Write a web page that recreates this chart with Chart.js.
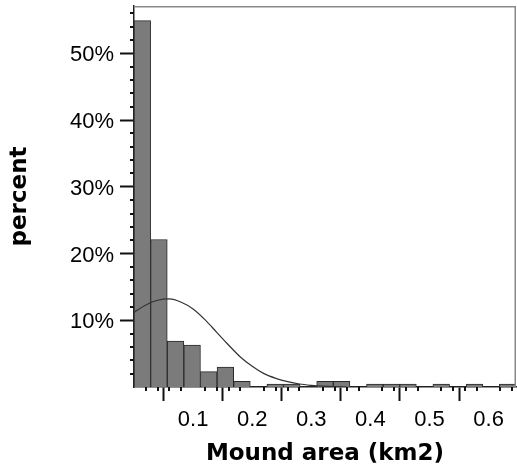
<!DOCTYPE html>
<html>
<head>
<meta charset="utf-8">
<title>Mound area histogram</title>
<script src="https://cdn.jsdelivr.net/npm/chart.js@4"></script>
<style>
  html, body { margin: 0; padding: 0; background: #fff; }
  #wrap { width: 517px; height: 470px; }
</style>
</head>
<body>
<div id="wrap"><canvas id="histChart" width="517" height="470"></canvas></div>
<script>
// bin centres (km2), bin width ~0.0281
const binCenters = [0.0141, 0.0422, 0.0703, 0.0984, 0.1265, 0.1546, 0.1827, 0.2108,
  0.2389, 0.2670, 0.2951, 0.3232, 0.3513, 0.3794, 0.4075, 0.4356, 0.4637, 0.4918,
  0.5199, 0.5480, 0.5761, 0.6042, 0.6323];
const binPercent = [54.9, 22.1, 6.9, 6.3, 2.3, 3.0, 0.85, 0, 0.45, 0.45, 0, 0.85,
  0.85, 0, 0.45, 0.45, 0.45, 0, 0.45, 0, 0.45, 0, 0.45];

// fitted normal curve
const curveX = [0, 0.02, 0.04, 0.06, 0.08, 0.10, 0.12, 0.14, 0.16, 0.18, 0.20,
  0.22, 0.24, 0.26, 0.28, 0.30, 0.32, 0.34, 0.36];
const curveY = [11.2, 12.3, 13.0, 13.2, 12.7, 11.7, 10.1, 8.2, 6.3, 4.5, 3.1,
  2.0, 1.3, 0.8, 0.45, 0.25, 0.12, 0.05, 0.02];

const xTicks = [0.1, 0.2, 0.3, 0.4, 0.5, 0.6];
const yTicks = [10, 20, 30, 40, 50];

const X_MAX = 0.6464;
const Y_MAX = 57.1;

Chart.defaults.font.family = "'Liberation Sans', Arial, sans-serif";
Chart.defaults.color = "#000";

const titleFont = { family: "'DejaVu Sans', sans-serif", size: 23, weight: "bold" };
const tickFont = { size: 22 };

// grey frame + small ticks between the labelled ones
const frameAndMinor = {
  id: "frameAndMinor",
  afterDraw(chart) {
    const { ctx, chartArea: a, scales: { x, y } } = chart;
    ctx.save();
    ctx.strokeStyle = "#8a8a8a";
    ctx.lineWidth = 1.5;
    ctx.beginPath();
    ctx.moveTo(a.left, a.top + 0.75);
    ctx.lineTo(a.right - 0.75, a.top + 0.75);
    ctx.lineTo(a.right - 0.75, a.bottom);
    ctx.stroke();

    ctx.strokeStyle = "#111";
    ctx.lineWidth = 2;
    ctx.beginPath();
    for (let v = 2; v < y.max; v += 2) {
      if (v % 10 === 0) continue;
      const py = Math.round(y.getPixelForValue(v));
      ctx.moveTo(a.left - 4, py);
      ctx.lineTo(a.left, py);
    }
    for (let i = 1; i * 0.02 < x.max; i++) {
      if (i % 5 === 0) continue;
      const px = Math.round(x.getPixelForValue(i * 0.02));
      ctx.moveTo(px, a.bottom);
      ctx.lineTo(px, a.bottom + 4);
    }
    ctx.stroke();
    ctx.restore();
  }
};

new Chart(document.getElementById("histChart"), {
  type: "bar",
  data: {
    datasets: [
      {
        type: "line",
        data: curveX.map((v, i) => ({ x: v, y: curveY[i] })),
        borderColor: "#333",
        borderWidth: 1.2,
        pointRadius: 0,
        tension: 0.4,
        cubicInterpolationMode: "monotone",
        order: 0
      },
      {
        type: "bar",
        data: binCenters.map((v, i) => ({ x: v, y: binPercent[i] })),
        backgroundColor: "#7b7b7b",
        borderColor: "#2a2a2a",
        borderWidth: 1,
        borderSkipped: "bottom",
        barPercentage: 1,
        categoryPercentage: 1,
        order: 1
      }
    ]
  },
  plugins: [frameAndMinor],
  options: {
    responsive: false,
    animation: false,
    layout: { padding: { top: 6, right: 1, left: 0, bottom: 0 } },
    plugins: { legend: { display: false }, tooltip: { enabled: false } },
    scales: {
      x: {
        type: "linear",
        min: 0,
        max: X_MAX,
        offset: false,
        afterBuildTicks: (s) => { s.ticks = xTicks.map((v) => ({ value: v })); },
        afterFit: (s) => {
          s.height = 83;
          s.paddingLeft = 0;
          s.paddingRight = 0;
        },
        ticks: {
          font: tickFont,
          padding: 6,
          maxRotation: 0,
          callback: (v) => Number(v).toFixed(1)
        },
        grid: {
          drawOnChartArea: false,
          tickLength: 14,
          tickWidth: 2,
          tickColor: "#111"
        },
        border: { color: "#222", width: 1.5 },
        title: {
          display: true,
          text: "Mound area (km2)",
          font: titleFont,
          padding: { top: 0, bottom: 2 }
        }
      },
      y: {
        min: 0,
        max: Y_MAX,
        afterBuildTicks: (s) => { s.ticks = yTicks.map((v) => ({ value: v })); },
        afterFit: (s) => {
          s.width = 134;
          s.paddingTop = 0;
          s.paddingBottom = 0;
        },
        ticks: {
          font: tickFont,
          padding: 6,
          labelOffset: 2,
          callback: (v) => v + "%"
        },
        grid: {
          drawOnChartArea: false,
          tickLength: 14,
          tickWidth: 2,
          tickColor: "#111"
        },
        border: { color: "#222", width: 1.5 },
        title: {
          display: true,
          text: "percent",
          font: titleFont,
          padding: { top: 6, bottom: 0 }
        }
      }
    }
  }
});
</script>
</body>
</html>
